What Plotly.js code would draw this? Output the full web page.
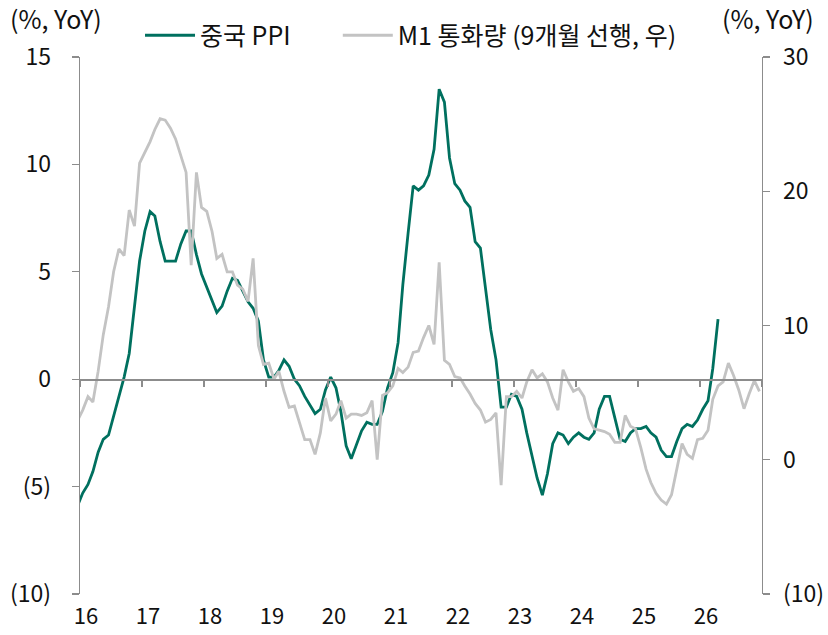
<!DOCTYPE html>
<html>
<head>
<meta charset="utf-8">
<script src="https://cdn.plot.ly/plotly-3.0.1.min.js"></script>
<style>html,body{margin:0;padding:0;background:#fff;}#chart{width:828px;height:635px;}</style>
</head>
<body>
<div id="chart"></div>
<script>
// China PPI YoY (%), monthly, Dec 2015 - Apr 2026
var ppiStart = [2015, 12];
var ppiValues = [
  -5.9,
  -5.3, -4.9, -4.3, -3.4, -2.8, -2.6, -1.7, -0.8, 0.1, 1.2, 3.3, 5.5,
  6.9, 7.8, 7.6, 6.4, 5.5, 5.5, 5.5, 6.3, 6.9, 6.9, 5.8, 4.9,
  4.3, 3.7, 3.1, 3.4, 4.1, 4.7, 4.6, 4.1, 3.6, 3.3, 2.7, 0.9,
  0.1, 0.1, 0.4, 0.9, 0.6, 0.0, -0.3, -0.8, -1.2, -1.6, -1.4, -0.5,
  0.1, -0.4, -1.5, -3.1, -3.7, -3.0, -2.4, -2.0, -2.1, -2.1, -1.5, -0.4,
  0.3, 1.7, 4.4, 6.8, 9.0, 8.8, 9.0, 9.5, 10.7, 13.5, 12.9, 10.3,
  9.1, 8.8, 8.3, 8.0, 6.4, 6.1, 4.2, 2.3, 0.9, -1.3, -1.3, -0.7,
  -0.8, -1.4, -2.5, -3.6, -4.6, -5.4, -4.4, -3.0, -2.5, -2.6, -3.0, -2.7,
  -2.5, -2.7, -2.8, -2.5, -1.4, -0.8, -0.8, -1.8, -2.8, -2.9, -2.5, -2.3,
  -2.3, -2.2, -2.5, -2.7, -3.3, -3.6, -3.6, -2.9, -2.3, -2.1, -2.2, -1.9,
  -1.4, -1.0, 0.5, 2.8
];
// M1 money supply YoY (%), plotted 9 months ahead, Dec 2015 - Dec 2026
var m1Start = [2015, 12];
var m1Values = [
  2.9,
  3.7, 4.7, 4.3, 6.6, 9.3, 11.4, 14.0, 15.7, 15.2, 18.6, 17.4, 22.1,
  22.9, 23.7, 24.6, 25.4, 25.3, 24.7, 23.9, 22.7, 21.4, 14.5, 21.4, 18.8,
  18.5, 17.0, 15.0, 15.3, 14.0, 14.0, 13.0, 12.7, 11.8, 15.0, 8.5, 7.1,
  7.2, 6.0, 6.6, 5.1, 3.9, 4.0, 2.7, 1.5, 1.5, 0.4, 2.0, 4.6,
  2.9, 3.4, 4.4, 3.1, 3.4, 3.4, 3.3, 3.5, 4.4, 0.0, 4.8, 5.0,
  5.5, 6.8, 6.5, 6.9, 8.0, 8.1, 9.1, 10.0, 8.6, 14.7, 7.4, 7.1,
  6.2, 6.1, 5.5, 4.9, 4.2, 3.7, 2.8, 3.0, 3.5, -1.9, 4.7, 4.7,
  5.1, 4.6, 5.8, 6.7, 6.1, 6.4, 5.8, 4.6, 3.7, 6.7, 5.8, 5.1,
  5.3, 4.7, 3.1, 2.3, 2.2, 2.1, 1.9, 1.3, 1.3, 3.3, 2.5, 2.3,
  0.9, -0.7, -1.7, -2.5, -3.0, -3.3, -2.6, -0.6, 1.2, 0.4, 0.1, 1.5,
  1.6, 2.2, 4.5, 5.5, 5.8, 7.2, 6.3, 5.2, 3.8, 4.9, 5.9, 5.1
];
var yearTicks = ['2016-01-20','2017-01-20','2018-01-20','2019-01-20','2020-01-20','2021-01-20','2022-01-20','2023-01-20','2024-01-20','2025-01-20','2026-01-20'];
var yearLabels = ['16','17','18','19','20','21','22','23','24','25','26'];
var leftTicks = [-10, -5, 0, 5, 10, 15];
var leftLabels = ['(10)', '(5)', '0', '5', '10', '15'];
var rightTicks = [-10, 0, 10, 20, 30];
var rightLabels = ['(10)', '0', '10', '20', '30'];
var seriesNames = ['중국 PPI', 'M1 통화량 (9개월 선행, 우)'];

function monthDates(start, n) {
  var out = [], y = start[0], m = start[1];
  for (var i = 0; i < n; i++) {
    out.push(y + '-' + (m < 10 ? '0' + m : m) + '-01');
    m++; if (m > 12) { m = 1; y++; }
  }
  return out;
}

var FONT = 'Noto Sans CJK KR, Noto Sans, sans-serif';
var GREEN = '#00705F';
var GRAY = '#C3C3C3';
var AXC = '#8C8C8C';
var TXT = '#111';
var xr = ['2015-12-16', '2026-12-16'];

var traces = [
  {
    x: monthDates(m1Start, m1Values.length), y: m1Values,
    type: 'scatter', mode: 'lines', name: seriesNames[1],
    xaxis: 'x2', yaxis: 'y2', legend: 'legend2',
    line: {color: GRAY, width: 2.8}, hoverinfo: 'skip'
  },
  {
    x: monthDates(ppiStart, ppiValues.length), y: ppiValues,
    type: 'scatter', mode: 'lines', name: seriesNames[0],
    xaxis: 'x', yaxis: 'y', legend: 'legend',
    line: {color: GREEN, width: 2.8}, hoverinfo: 'skip'
  }
];

var tickFont = {family: FONT, size: 23, color: TXT};
var xTickFont = {family: FONT, size: 22, color: TXT};
var legFont = {family: FONT, size: 25, color: TXT};

var layout = {
  width: 828, height: 635,
  margin: {l: 80, r: 66, t: 55, b: 41, pad: 0},
  paper_bgcolor: '#fff', plot_bgcolor: '#fff',
  font: {family: FONT, size: 23, color: TXT},
  showlegend: true,
  legend: {
    orientation: 'h', x: 0.088, xanchor: 'left', y: 1.04, yanchor: 'middle',
    font: legFont, bgcolor: 'rgba(0,0,0,0)', borderwidth: 0, itemwidth: 50
  },
  legend2: {
    orientation: 'h', x: 0.378, xanchor: 'left', y: 1.04, yanchor: 'middle',
    font: legFont, bgcolor: 'rgba(0,0,0,0)', borderwidth: 0, itemwidth: 50
  },
  xaxis: {
    type: 'date', range: xr, anchor: 'y',
    showgrid: false, zeroline: false, showline: false, ticks: '',
    tickmode: 'array', tickvals: yearTicks, ticktext: yearLabels,
    tickfont: xTickFont, ticklabelstandoff: 7
  },
  xaxis2: {
    type: 'date', range: xr, overlaying: 'x', anchor: 'free', position: 0.4,
    showgrid: false, zeroline: false, showline: true, linecolor: AXC, linewidth: 1.3,
    ticks: 'outside', ticklen: 6, tickwidth: 1.3, tickcolor: AXC,
    tick0: '2015-12-16', dtick: 'M12', showticklabels: false
  },
  yaxis: {
    range: [-10, 15], anchor: 'x',
    showgrid: false, zeroline: false, showline: true, linecolor: AXC, linewidth: 1.3,
    ticks: 'outside', ticklen: 7, tickwidth: 1.3, tickcolor: AXC,
    tickmode: 'array', tickvals: leftTicks, ticktext: leftLabels,
    tickfont: tickFont, ticklabelstandoff: 16
  },
  yaxis2: {
    range: [-10, 30], overlaying: 'y', side: 'right', anchor: 'x2',
    showgrid: false, zeroline: false, showline: true, linecolor: AXC, linewidth: 1.3,
    ticks: 'outside', ticklen: 7, tickwidth: 1.3, tickcolor: AXC,
    tickmode: 'array', tickvals: rightTicks, ticktext: rightLabels,
    tickfont: tickFont, ticklabelstandoff: 8
  },
  annotations: [
    {text: '(%, YoY)', xref: 'paper', yref: 'paper', x: -0.106, y: 1.072,
     xanchor: 'left', yanchor: 'middle', showarrow: false, font: {family: FONT, size: 25, color: TXT}},
    {text: '(%, YoY)', xref: 'paper', yref: 'paper', x: 0.938, y: 1.072,
     xanchor: 'left', yanchor: 'middle', showarrow: false, font: {family: FONT, size: 25, color: TXT}}
  ]
};

Plotly.newPlot('chart', traces, layout, {displayModeBar: false, staticPlot: true});
</script>
</body>
</html>
